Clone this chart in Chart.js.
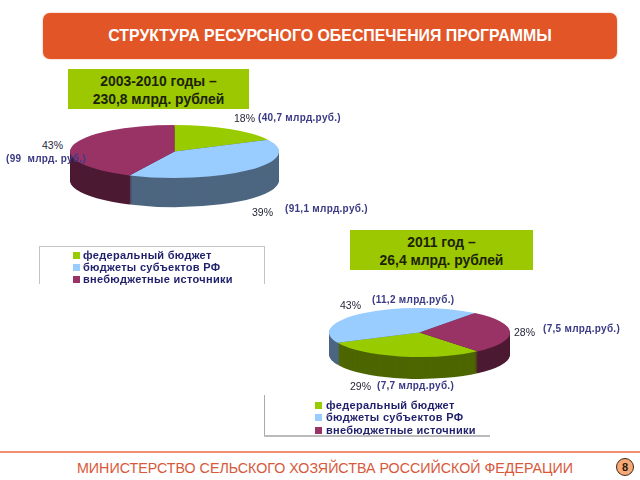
<!DOCTYPE html>
<html lang="ru">
<head>
<meta charset="utf-8">
<script src="https://cdn.jsdelivr.net/npm/chart.js@4"></script>
<style>
html,body{margin:0;padding:0;background:#fff;width:640px;height:480px;overflow:hidden;font-family:"Liberation Sans",Arial,sans-serif}
#stage{position:relative;width:640px;height:480px;overflow:hidden}
#stage>*{position:absolute}
canvas{display:block}
.head{left:43px;top:13px;width:574px;height:46px;background:#E25526;border-radius:7px;color:#fff;font-weight:bold;font-size:15.9px;line-height:46px;text-align:center;box-shadow:0 0 2px #e9a58c;white-space:nowrap}
.box{background:#9BC800;color:#1c2208;font-weight:bold;font-size:13.9px;line-height:18px;text-align:center;padding-top:3px;box-sizing:border-box}
.val{color:#3a3a85;font-size:10px;font-weight:bold;letter-spacing:.3px;white-space:pre;line-height:12px;z-index:5}
.pct{color:#26263a;font-size:10.5px;line-height:12px;white-space:pre;z-index:5}
.lg{font-weight:bold;font-size:11px;letter-spacing:.3px;color:#1f1f6b;white-space:nowrap;line-height:12px}
.sw{width:7px;height:7px}
.foot{left:0;top:451px;width:640px;height:1.5px;background:#f08f74}
.org{left:77px;top:459px;color:#d8583a;font-size:14.25px;line-height:18px;white-space:nowrap}
.badge{left:616px;top:458px;width:16px;height:16px;border-radius:50%;background:#f5a878;border:1.6px solid #46280f;color:#2a1a08;font-weight:bold;font-size:11px;line-height:16px;text-align:center}
</style>
</head>
<body>
<div id="stage"></div>
<script>
// ---- data ----
const categories = ["федеральный бюджет", "бюджеты субъектов РФ", "внебюджетные источники"];
const values2003 = [40.7, 91.1, 99];
const values2011 = [7.7, 11.2, 7.5];
const percent2003 = ["18%", "39%", "43%"];
const percent2011 = ["29%", "43%", "28%"];
const amounts2003 = ["(40,7 млрд.руб.)", "(91,1 млрд.руб.)", "(99  млрд. руб.)"];
const amounts2011 = ["(7,7 млрд.руб.)", "(11,2 млрд.руб.)", "(7,5 млрд.руб.)"];
const topColors = ["#99CC00", "#99CCFF", "#993366"];
const sideColors = ["#4D6600", "#4D6680", "#4D1A33"];
const headerText = "СТРУКТУРА РЕСУРСНОГО ОБЕСПЕЧЕНИЯ ПРОГРАММЫ";
const box2003 = ["2003-2010 годы –", "230,8 млрд. рублей"];
const box2011 = ["2011 год –", "26,4 млрд. рублей"];
const footerText = "МИНИСТЕРСТВО СЕЛЬСКОГО ХОЗЯЙСТВА РОССИЙСКОЙ ФЕДЕРАЦИИ";
const pageNumber = "8";

// ---- page furniture ----
const stage = document.getElementById("stage");
function add(cls, css, text) {
  const d = document.createElement("div");
  d.className = cls;
  d.style.cssText = css;
  if (text !== undefined) d.textContent = text;
  stage.appendChild(d);
  return d;
}
add("head", "", headerText);
add("box", "left:68px;top:69px;width:181px;height:40px").innerHTML = box2003.join("<br>");
add("box", "left:350px;top:230px;width:183px;height:40px").innerHTML = box2011.join("<br>");
add("foot", "");
add("org", "", footerText);
add("badge", "", pageNumber);

// ---- squashed pie with an extruded rim ----
const tilt3d = {
  id: "tilt3d",
  beforeDatasetsDraw(chart, args, o) {
    const ctx = chart.ctx;
    const arcs = chart.getDatasetMeta(0).data;
    const cx = arcs[0].x, cy = arcs[0].y;
    const k = o.ry / arcs[0].outerRadius;
    ctx.save();
    ctx.translate(cx, cy);
    ctx.scale(1, k);
    ctx.translate(-cx, -cy);
    for (let d = o.depth; d > 0; d -= 1) {
      arcs.forEach((a, i) => {
        ctx.beginPath();
        ctx.moveTo(a.x, a.y + d / k);
        ctx.arc(a.x, a.y + d / k, a.outerRadius, a.startAngle, a.endAngle);
        ctx.closePath();
        ctx.fillStyle = sideColors[i];
        ctx.fill();
      });
    }
  },
  afterDatasetsDraw(chart) { chart.ctx.restore(); }
};

function pie(values, cx, cy, rx, ry, depth, rotation) {
  const c = document.createElement("canvas");
  const size = 2 * rx;
  c.width = size; c.height = size;
  c.style.cssText = `position:absolute;left:${cx - rx}px;top:${cy - rx}px;width:${size}px;height:${size}px`;
  stage.appendChild(c);
  return new Chart(c, {
    type: "pie",
    data: { labels: categories, datasets: [{ data: values, backgroundColor: topColors, borderWidth: 0 }] },
    options: {
      responsive: false, animation: false, rotation,
      layout: { padding: 0 },
      events: [],
      plugins: { legend: { display: false }, tooltip: { enabled: false }, tilt3d: { ry, depth } }
    },
    plugins: [tilt3d]
  });
}
pie(values2003, 174.5, 151.5, 104.5, 26.5, 29, 0);
pie(values2011, 419.5, 332, 90.5, 24.5, 22, 140);

// ---- slice labels ----
function lab(cls, x, yc, text) { add(cls, `left:${x}px;top:${yc - 6}px`, text); }
lab("pct", 234, 118, percent2003[0]);
lab("val", 258, 118, amounts2003[0]);
lab("pct", 252, 212, percent2003[1]);
lab("val", 285, 209, amounts2003[1]);
lab("pct", 42, 145, percent2003[2]);
lab("val", 6, 159, amounts2003[2]);
lab("pct", 350, 386, percent2011[0]);
lab("val", 377, 386, amounts2011[0]);
lab("pct", 340, 305, percent2011[1]);
lab("val", 372, 300, amounts2011[1]);
lab("pct", 514, 332, percent2011[2]);
lab("val", 543, 329, amounts2011[2]);

// ---- legends ----
function legend(swatchX, textX, rows) {
  categories.forEach((t, i) => {
    add("sw", `left:${swatchX}px;top:${rows[i] - 3.5}px;background:${topColors[i]}`);
    add("lg", `left:${textX}px;top:${rows[i] - 6}px`, t);
  });
}
legend(73, 83, [255, 267, 279]);
legend(315, 326, [405, 417, 430]);
const grey = "background:#c4c4c8";
add("", `left:39px;top:246px;width:226px;height:1px;${grey}`);
add("", `left:39px;top:246px;width:1px;height:38px;${grey}`);
add("", `left:264px;top:246px;width:1px;height:38px;${grey}`);
add("", `left:264px;top:395px;width:1px;height:41px;background:#aaa`);
add("", `left:264px;top:435px;width:226px;height:1.5px;background:#bbb`);
</script>
</body>
</html>
